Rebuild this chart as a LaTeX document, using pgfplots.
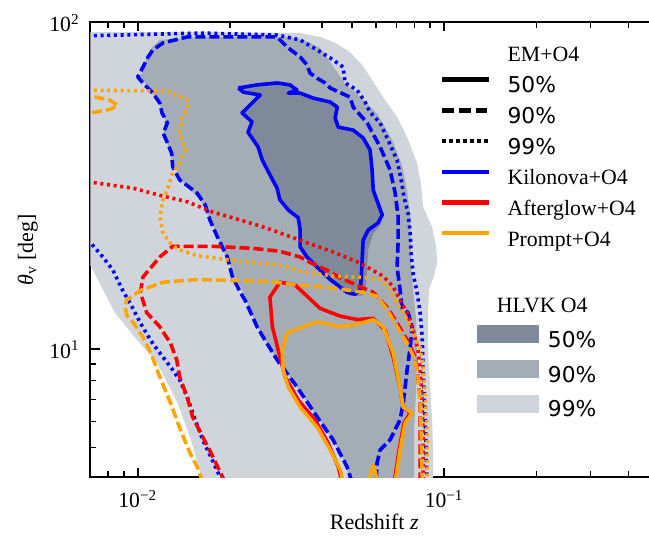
\documentclass[border=0pt]{standalone}
\usepackage{fontspec}
\setmainfont{Liberation Serif}
\newfontfamily\dejavu{DejaVu Sans}
\usepackage{pgfplots}
\pgfplotsset{compat=1.18}

\definecolor{hl50}{RGB}{126,138,153}
\definecolor{hl90}{RGB}{164,172,181}
\definecolor{hl99}{RGB}{208,213,219}
\definecolor{kn}{RGB}{0,0,255}
\definecolor{ag}{RGB}{255,0,0}
\definecolor{pr}{RGB}{255,165,0}

\tikzset{
  s50/.style={line width=1.8pt, solid, line join=round},
  s90/.style={line width=1.8pt, dash pattern=on 5pt off 2pt, line join=round},
  s99/.style={line width=1.8pt, dash pattern=on 1.5pt off 1.85pt, line join=round},
}

\begin{document}
\begin{tikzpicture}
\useasboundingbox (-45.15pt,-33.35pt) rectangle (279.35pt,238.65pt);

\begin{axis}[
  xmode=log, ymode=log,
  scale only axis, width=284pt, height=227.65pt,
  xmin=0.007, xmax=0.5, ymin=4.05, ymax=100,
  axis line style={line width=1.1pt},
  xtick={0.01,0.1}, xticklabels={10\textsuperscript{−2},10\textsuperscript{−1}},
  ytick={10,100}, yticklabels={10\textsuperscript{1},10\textsuperscript{2}},
  minor xtick={0.007,0.008,0.009,0.02,0.03,0.04,0.05,0.06,0.07,0.08,0.09,0.2,0.3,0.4,0.5},
  minor ytick={5,6,7,8,9,20,30,40,50,60,70,80,90},
  major tick length=4.7pt, minor tick length=3pt,
  every tick/.style={black, line width=0.8pt},
  tick label style={font=\fontsize{10.8}{12}\selectfont, inner sep=0pt},
  xticklabel style={anchor=base, yshift=-15.35pt},
  yticklabel style={anchor=base east, xshift=-5.15pt, yshift=-5pt},
  xlabel={Redshift \textit{z}},
  ylabel={\textit{θ}\textsubscript{v} [deg]},
  label style={font=\fontsize{11}{13}\selectfont},
  xlabel style={at={(axis description cs:0.5,-0.1138)}, anchor=base},
  ylabel style={at={(axis description cs:-0.1007,0.5)}, anchor=base},
  legend style={draw=none, fill=none, font=\fontsize{10.9}{13}\selectfont,
    at={(axis description cs:0.6157,0.9517)}, anchor=north west,
    inner sep=0pt, outer sep=0pt, row sep=3.35pt, column sep=8pt,
    nodes={inner sep=0pt, text height=9pt, text depth=3pt}},
  legend cell align=left,
  legend image code/.code={\draw[#1] (0pt,3.5pt) -- (23.5pt,3.5pt);},
]

% HLVK O4 credible regions
\addplot[fill=hl99, draw=none, forget plot] coordinates {
(0.0065,93.2) (0.0160,93.2) (0.0339,92.5) (0.0394,90.0) (0.0441,86.3) (0.0493,80.9)
(0.0540,73.9) (0.0582,66.5) (0.0632,58.9) (0.0702,51.3) (0.0757,44.5) (0.0816,37.0)
(0.0841,31.8) (0.0854,27.2) (0.0914,23.6) (0.0942,20.5) (0.0949,18.4) (0.0927,16.8)
(0.0893,15.2) (0.0887,13.2) (0.0887,9.72) (0.0900,7.65) (0.0914,6.07) (0.0921,4.81)
(0.0921,3.7) (0.0166,3.7) (0.01481,5.38) (0.01344,6.88) (0.01156,9.07) (0.00995,10.65)
(0.00843,12.9) (0.00699,18.05) (0.0065,18.4)};

\addplot[fill=hl90, draw=none, forget plot] coordinates {
(0.0118,88.1) (0.0160,90.0) (0.0314,90.0) (0.0352,87.5) (0.0394,83.3) (0.0425,75.4)
(0.0475,64.7) (0.0540,58.5) (0.0609,51.9) (0.0677,43.6) (0.0729,36.5) (0.0757,30.6)
(0.0775,25.7) (0.0780,21.5) (0.0780,18.05) (0.0792,15.2) (0.0810,12.3) (0.0816,9.93)
(0.0810,7.49) (0.0798,5.65) (0.0798,3.7) (0.0493,3.7) (0.0482,4.36) (0.0434,5.27)
(0.0385,6.20) (0.0331,7.65) (0.0285,9.26) (0.0245,11.7) (0.0221,14.9) (0.0203,17.4)
(0.0188,20.5) (0.0174,24.4) (0.0160,28.6) (0.0140,32.4) (0.0129,37.8) (0.0125,42.7)
(0.0121,45.7) (0.0123,50.2) (0.0118,55.7) (0.0110,61.9) (0.0102,67.9) (0.0106,76.5)
(0.0111,83.3)};

\addplot[fill=hl50, draw=none, forget plot] coordinates {
(0.0213,62.8) (0.0245,64.2) (0.0285,65.1) (0.0314,64.2) (0.0331,61.9) (0.0310,60.6)
(0.0339,60.6) (0.0374,58.5) (0.0425,56.9) (0.0448,54.9) (0.0441,50.9) (0.0451,47.7)
(0.0505,46.7) (0.0544,44.2) (0.0573,40.6) (0.0582,35.3) (0.0587,30.6) (0.0628,25.7)
(0.0618,23.9) (0.0587,22.6) (0.0565,20.1) (0.0560,17.4) (0.0556,15.7) (0.0544,14.6)
(0.0493,14.5) (0.0475,15.0) (0.0425,16.3) (0.0385,17.8) (0.0357,19.1) (0.0339,20.5)
(0.0339,23.1) (0.0334,25.2) (0.0310,26.6) (0.0291,28.6) (0.0285,31.0) (0.0270,34.1)
(0.0255,37.8) (0.0247,41.5) (0.0229,46.0) (0.0236,49.5) (0.0219,52.7) (0.0238,56.9)
(0.0251,59.8) (0.0221,61.0)};

% Kilonova + O4
\addplot[kn, s99, forget plot] coordinates {
(0.0065,90.6) (0.0160,92.5) (0.0285,91.2) (0.0339,88.1) (0.0385,82.1) (0.0425,77.6)
(0.0468,72.8) (0.0475,65.1) (0.0520,61.9) (0.0552,56.9) (0.0573,53.0) (0.0618,49.1)
(0.0656,43.6) (0.0702,37.8) (0.0724,32.9) (0.0740,29.1) (0.0763,26.0) (0.0775,22.6)
(0.0780,19.7) (0.0792,17.0) (0.0816,14.9) (0.0835,12.9) (0.0848,10.85) (0.0854,8.63)
(0.0867,6.07) (0.0880,3.9)};
\addplot[kn, s99, forget plot] coordinates {
(0.0065,21.8) (0.00699,21.2) (0.0077,19.1) (0.0083,17.4) (0.0089,15.2) (0.0096,13.4)
(0.0102,12.0) (0.0110,10.65) (0.0118,9.72) (0.0128,8.81) (0.0137,8.04) (0.0145,7.13)
(0.0154,6.07) (0.0163,5.27) (0.0175,4.58) (0.0183,4.18) (0.0188,3.93)};
\addplot[kn, s90, forget plot] coordinates {
(0.0501,3.9) (0.0482,4.36) (0.0434,5.27) (0.0385,6.20) (0.0331,7.65) (0.0285,9.26)
(0.0260,10.65) (0.0245,11.7) (0.0224,14.1) (0.0216,14.9) (0.0203,16.8) (0.0196,19.1)
(0.0182,22.0) (0.0172,24.8) (0.0166,27.6) (0.0156,30.0) (0.0137,32.9) (0.0130,36.1)
(0.0129,39.7) (0.0125,42.7) (0.0121,45.7) (0.0125,49.1) (0.0120,52.7) (0.0118,56.5)
(0.0112,60.6) (0.0104,65.1) (0.0100,67.9) (0.0104,72.8) (0.0108,78.1) (0.0112,82.1)
(0.0121,86.3) (0.0145,90.0) (0.0205,90.0) (0.0285,90.0) (0.0307,83.9) (0.0339,78.1)
(0.0357,73.9) (0.0365,69.8) (0.0388,67.0) (0.0409,65.1) (0.0425,62.8) (0.0493,58.9)
(0.0505,54.9) (0.0561,49.1) (0.0618,41.5) (0.0666,35.3) (0.0692,30.0) (0.0708,25.3)
(0.0708,21.5) (0.0702,17.8) (0.0718,15.2) (0.0729,13.4) (0.0763,12.9) (0.0786,11.7)
(0.0775,10.1) (0.0757,8.63) (0.0746,7.65) (0.0735,6.83) (0.0718,6.07) (0.0666,5.27)
(0.0618,4.91) (0.0604,4.48) (0.0600,3.9)};
\addplot[kn, s50, forget plot] coordinates {
(0.0213,62.8) (0.0245,64.2) (0.0285,65.1) (0.0314,64.2) (0.0331,61.9) (0.0310,60.6)
(0.0339,60.6) (0.0374,58.5) (0.0425,56.9) (0.0448,54.9) (0.0441,50.9) (0.0451,47.7)
(0.0505,46.7) (0.0544,44.2) (0.0573,40.6) (0.0582,35.3) (0.0587,30.6) (0.0628,25.7)
(0.0609,24.3) (0.0565,23.1) (0.0544,21.5) (0.0540,18.7) (0.0536,16.3) (0.0532,15.2)
(0.0512,14.7) (0.0482,14.9) (0.0425,16.3) (0.0385,17.8) (0.0357,19.1) (0.0339,20.5)
(0.0339,23.1) (0.0334,25.2) (0.0310,26.6) (0.0291,28.6) (0.0285,31.0) (0.0270,34.1)
(0.0255,37.8) (0.0247,41.5) (0.0229,46.0) (0.0236,49.5) (0.0219,52.7) (0.0238,56.9)
(0.0251,59.8) (0.0221,61.0) (0.0213,62.8)};

% Afterglow + O4
\addplot[ag, s99, forget plot] coordinates {
(0.0065,32.7) (0.0097,31.0) (0.0118,29.5) (0.0145,28.2) (0.0176,26.2) (0.0216,24.8)
(0.0264,23.4) (0.0339,21.5) (0.0434,19.8) (0.0532,18.3) (0.0632,16.7) (0.0682,15.5)
(0.0718,14.1) (0.0757,12.9) (0.0792,11.4) (0.0822,9.93) (0.0835,8.63) (0.0848,6.83)
(0.0854,5.38) (0.0854,3.9)};
\addplot[ag, s90, forget plot] coordinates {
(0.0193,3.9) (0.0176,4.67) (0.0163,5.38) (0.0151,6.20) (0.0145,7.13) (0.0137,8.21)
(0.0134,9.26) (0.0128,10.4) (0.0118,11.7) (0.0107,12.9) (0.0102,14.9) (0.0104,16.6)
(0.0118,19.1) (0.0130,20.6) (0.0176,20.6) (0.0238,20.3) (0.0291,19.9) (0.0339,19.1)
(0.0365,18.4) (0.0415,17.4) (0.0458,16.5) (0.0532,15.5) (0.0587,14.9) (0.0652,13.4)
(0.0702,12.0) (0.0757,10.65) (0.0804,9.45) (0.0822,8.21) (0.0835,6.98) (0.0835,5.77)
(0.0835,4.81) (0.0835,3.9)};
\addplot[ag, s50, forget plot] coordinates {
(0.0465,3.9) (0.0451,4.36) (0.0418,5.16) (0.0379,6.07) (0.0334,6.98) (0.0303,8.21)
(0.0291,9.45) (0.0275,11.7) (0.0270,14.4) (0.0291,16.0) (0.0326,15.7) (0.0357,14.5)
(0.0394,13.3) (0.0458,12.6) (0.0520,12.3) (0.0587,12.4) (0.0642,11.4) (0.0682,9.45)
(0.0718,7.65) (0.0735,6.64) (0.0775,6.37) (0.0740,5.94) (0.0713,4.91) (0.0687,3.9)};

% Prompt + O4
\addplot[pr, s99, forget plot] coordinates {
(0.0065,61.9) (0.0125,61.5) (0.0145,57.7) (0.0146,54.9) (0.0140,51.3) (0.0137,45.7)
(0.0143,40.6) (0.0137,37.0) (0.0130,34.6) (0.0125,30.6) (0.0121,28.6) (0.0118,25.3)
(0.0121,22.6) (0.0129,20.8) (0.0137,20.1) (0.0156,19.3) (0.0176,19.0) (0.0229,18.4)
(0.0291,18.05) (0.0339,17.3) (0.0434,16.7) (0.0544,16.56) (0.0618,16.3) (0.0666,15.2)
(0.0702,13.8) (0.0757,12.3) (0.0792,11.2) (0.0835,10.1) (0.0854,8.81) (0.0867,7.33)
(0.0880,5.77) (0.0880,3.9)};
\addplot[pr, s90, forget plot] coordinates {
(0.0065,58.9) (0.0073,58.9) (0.0081,57.7) (0.0086,55.7) (0.0082,54.2) (0.0073,53.0)
(0.0065,52.7)};
\addplot[pr, s90, forget plot] coordinates {
(0.0163,3.9) (0.0158,4.27) (0.0148,4.81) (0.0137,5.74) (0.0128,6.83) (0.0118,8.21)
(0.0111,9.59) (0.0104,10.85) (0.0097,12.0) (0.0092,12.7) (0.0091,13.4) (0.0092,14.1)
(0.0102,15.1) (0.0121,16.0) (0.0156,16.3) (0.0205,16.2) (0.0264,16.1) (0.0331,15.7)
(0.0425,15.4) (0.0544,14.9) (0.0604,14.5) (0.0652,13.2) (0.0702,11.7) (0.0757,10.4)
(0.0804,9.26) (0.0822,8.21) (0.0835,6.98) (0.0841,5.77) (0.0848,3.9)};
\addplot[pr, s50, forget plot] coordinates {
(0.0468,3.9) (0.0458,4.27) (0.0425,4.91) (0.0385,5.77) (0.0339,6.64) (0.0310,7.65)
(0.0298,8.63) (0.0296,9.93) (0.0307,11.2) (0.0385,12.1) (0.0458,11.7) (0.0520,11.9)
(0.0587,12.3) (0.0632,11.7) (0.0682,9.72) (0.0718,7.65) (0.0735,6.64) (0.0786,6.37)
(0.0746,5.94) (0.0718,4.91) (0.0692,3.9)};
\addplot[pr, s50, forget plot] coordinates {
(0.0565,3.9) (0.0587,4.42) (0.0609,3.9)};

% legend: EM + O4
\addlegendimage{empty legend}
\addlegendentry{EM+O4}
\addlegendimage{black, line width=2.3pt, solid}
\addlegendentry{\dejavu 50\%}
\addlegendimage{black, line width=2.3pt, dash pattern=on 5.8pt off 2.5pt}
\addlegendentry{\dejavu 90\%}
\addlegendimage{black, line width=2.3pt, dash pattern=on 1.65pt off 1.85pt}
\addlegendentry{\dejavu 99\%}
\addlegendimage{kn, line width=2.1pt}
\addlegendentry{Kilonova+O4}
\addlegendimage{ag, line width=2.1pt}
\addlegendentry{Afterglow+O4}
\addlegendimage{pr, line width=2.1pt}
\addlegendentry{Prompt+O4}
\end{axis}

% legend: HLVK O4 regions
\begin{axis}[
  scale only axis, width=284pt, height=227.65pt,
  xmin=0, xmax=1, ymin=0, ymax=1,
  hide axis,
  legend style={draw=none, fill=none, font=\fontsize{10.9}{13}\selectfont,
    at={(axis description cs:0.6808,0.4011)}, anchor=north west,
    inner sep=0pt, outer sep=0pt, row sep=3.35pt, column sep=4.5pt,
    nodes={inner sep=0pt, text height=9pt, text depth=3pt}},
  legend cell align=left,
  legend image code/.code={\path[#1] (0pt,-1pt) rectangle (31pt,8pt);},
]
\addlegendimage{empty legend}
\addlegendentry{\hspace*{-25.5pt}HLVK O4}
\addlegendimage{fill=hl50, draw=none}
\addlegendentry{\dejavu 50\%}
\addlegendimage{fill=hl90, draw=none}
\addlegendentry{\dejavu 90\%}
\addlegendimage{fill=hl99, draw=none}
\addlegendentry{\dejavu 99\%}
\end{axis}
\end{tikzpicture}
\end{document}
